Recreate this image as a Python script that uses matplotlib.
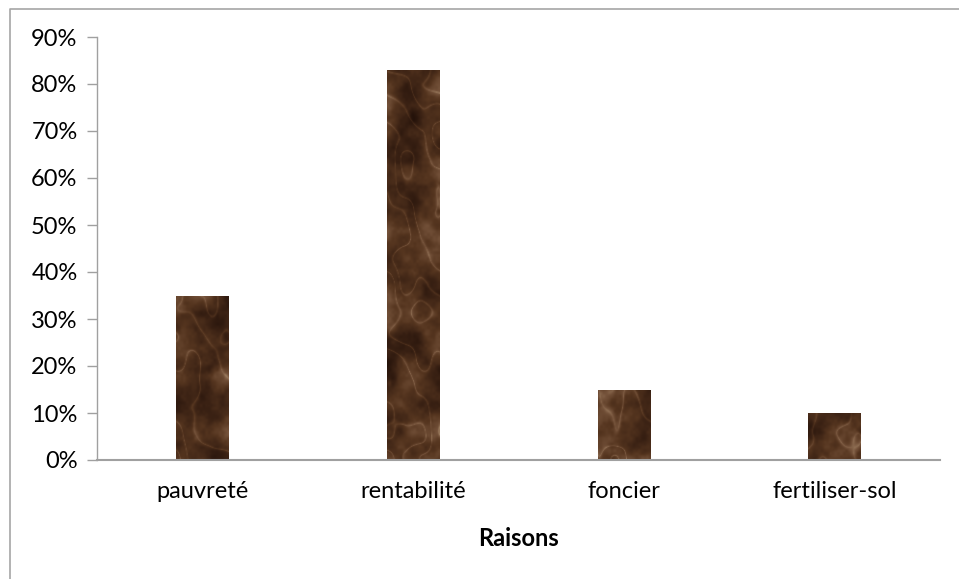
import numpy as np
import matplotlib
matplotlib.use("Agg")
import matplotlib.pyplot as plt
from matplotlib.colors import LinearSegmentedColormap
from matplotlib.lines import Line2D
from matplotlib.ticker import PercentFormatter

plt.rcParams['font.family'] = ['Lato', 'DejaVu Sans']

raisons = ['pauvreté', 'rentabilité', 'foncier', 'fertiliser-sol']
pourcentages = [0.35, 0.83, 0.15, 0.10]


def smooth_noise(rng, h, w, cell):
    gh, gw = h // cell + 2, w // cell + 2
    g = rng.random((gh, gw))
    yy = np.linspace(0, gh - 1.001, h)
    xx = np.linspace(0, gw - 1.001, w)
    y0 = yy.astype(int); x0 = xx.astype(int)
    fy = (yy - y0)[:, None]; fx = (xx - x0)[None, :]
    fy = fy * fy * (3 - 2 * fy); fx = fx * fx * (3 - 2 * fx)
    a = g[y0][:, x0]; b = g[y0][:, x0 + 1]
    c = g[y0 + 1][:, x0]; d = g[y0 + 1][:, x0 + 1]
    return (a * (1 - fx) + b * fx) * (1 - fy) + (c * (1 - fx) + d * fx) * fy


def marble(h, w, seed):
    # soft mottled brown stone: blotches plus a few faint pale streaks
    rng = np.random.default_rng(seed)
    field = np.zeros((h, w))
    for cell, amp in [(30, 1.0), (14, 0.55), (7, 0.3), (3, 0.15)]:
        field += amp * smooth_noise(rng, h, w, cell)
    field /= field.max()
    warp = smooth_noise(rng, h, w, 25)
    Y, X = np.mgrid[0:h, 0:w]
    veins = np.abs(np.sin(X * 0.08 - Y * 0.05 + warp * 6.0))
    tex = 0.8 * field + 0.25 * (1 - veins) ** 6
    return (tex - tex.min()) / (tex.max() - tex.min())


brun = LinearSegmentedColormap.from_list(
    'brun', ['#24120a', '#3b2214', '#55351f', '#74523a', '#9c7d60'])

fig = plt.figure(figsize=(9.59, 5.79), dpi=100)
ax = fig.add_axes([97 / 959, 1 - 460 / 579, 843 / 959, 423 / 579])

x = np.arange(len(raisons))
bars = ax.bar(x, pourcentages, width=0.25, color='none', edgecolor='none')

for i, b in enumerate(bars):
    tex = marble(420, 55, seed=11 + i)
    im = ax.imshow(tex, cmap=brun, aspect='auto', interpolation='bilinear',
                   extent=(b.get_x(), b.get_x() + b.get_width(), 0, 0.9),
                   zorder=2)
    im.set_clip_path(b)
ax.set_xlim(-0.5, len(raisons) - 0.5)
ax.set_ylim(0, 0.9)

ax.set_yticks(np.arange(0, 0.91, 0.1))
ax.yaxis.set_major_formatter(PercentFormatter(1.0, decimals=0))
ax.set_xticks(x)
ax.set_xticklabels(raisons)
ax.tick_params(axis='x', length=0, pad=15, labelsize=17)
ax.tick_params(axis='y', length=7, color='#a0a0a0', width=1, pad=7, labelsize=17)
for s in ['top', 'right']:
    ax.spines[s].set_visible(False)
ax.spines['left'].set_color('#a0a0a0')
ax.spines['left'].set_linewidth(1.0)
ax.spines['bottom'].set_color('#a0a0a0')
ax.spines['bottom'].set_linewidth(1.5)
ax.set_xlabel('Raisons', fontsize=17, fontweight='bold', labelpad=18)

# outer chart frame (left and top edges)
fig.add_artist(Line2D([9.5 / 959, 9.5 / 959, 1.0], [0.0, 1 - 8.5 / 579, 1 - 8.5 / 579],
                      transform=fig.transFigure, color='#a6a6a6', lw=1.2))

fig.savefig('out.png', dpi=100)
